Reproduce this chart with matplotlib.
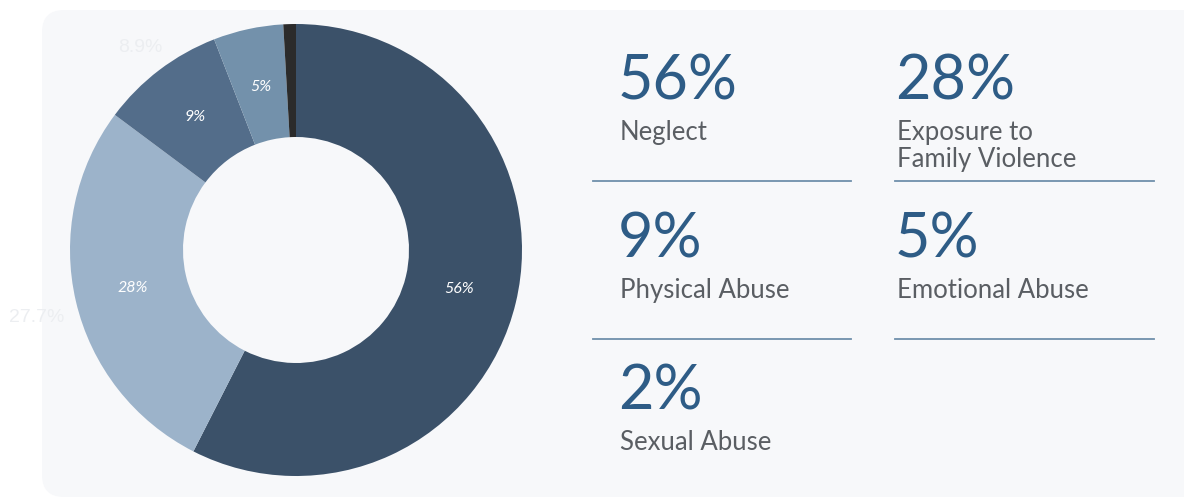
import numpy as np
import matplotlib.pyplot as plt
from matplotlib.patches import FancyBboxPatch

plt.rcParams['font.family'] = ['Lato', 'DejaVu Sans']

# data
categories = ['Neglect', 'Exposure to\nFamily Violence', 'Physical Abuse', 'Emotional Abuse', 'Sexual Abuse']
shares = [57.5, 27.7, 8.9, 5.0, 0.9]
pct_labels = ['56%', '28%', '9%', '5%', '2%']
slice_labels = ['56%', '28%', '9%', '5%', '']
ghost_labels = ['8.9%', '27.7%']
colors = ['#3b5169', '#9cb3ca', '#536d8a', '#7391ab', '#2b2b2b']

W, H = 1184, 500
fig = plt.figure(figsize=(W / 100, H / 100), dpi=100)
fig.patch.set_facecolor('white')

# background panel
bg = fig.add_axes([0, 0, 1, 1])
bg.set_xlim(0, W)
bg.set_ylim(H, 0)
bg.axis('off')
bg.add_patch(FancyBboxPatch((42, 10), 1200, 487, boxstyle='round,pad=0,rounding_size=22',
                            fc='#f7f8fa', ec='none', zorder=0))

# ghost labels (faint)
bg.text(140, 47, ghost_labels[0], fontsize=14, color='#eceef1', ha='center', va='center',
        family='Liberation Sans', zorder=1)
bg.text(37, 318, ghost_labels[1], fontsize=14, color='#eceef1', ha='center', va='center',
        family='Liberation Sans', zorder=1)

# donut
ax = fig.add_axes([70 / W, 24 / H, 452 / W, 452 / H])
wedges, _ = ax.pie(shares, colors=colors, startangle=90, counterclock=False, radius=1,
                   wedgeprops=dict(width=0.5, edgecolor='none'))
ax.set_xlim(-1, 1)
ax.set_ylim(-1, 1)
ax.set_aspect('equal')
ax.axis('off')
for w, lab in zip(wedges, slice_labels):
    if not lab:
        continue
    mid = np.deg2rad((w.theta1 + w.theta2) / 2)
    ax.text(0.74 * np.cos(mid), 0.74 * np.sin(mid), lab, color='white', fontsize=11.5,
            style='italic', ha='center', va='center')

# right-hand summary
num_color = '#2e5c86'
lab_color = '#5a5e63'
line_color = '#6f8fab'
cols = [620, 897]
rows = [100, 258, 410]
for i, (pct, cat) in enumerate(zip(pct_labels, categories)):
    x = cols[i % 2]
    y = rows[i // 2]
    bg.text(x - 2, y, pct, fontsize=44, color=num_color, ha='left', va='baseline')
    for k, line in enumerate(cat.split('\n')):
        bg.text(x, y + 40 + 27 * k, line, fontsize=18.5, color=lab_color,
                ha='left', va='baseline')

for y in [181, 339]:
    bg.plot([593, 851], [y, y], color=line_color, lw=1.3)
    bg.plot([895, 1154], [y, y], color=line_color, lw=1.3)

fig.savefig('out.png', dpi=100)
